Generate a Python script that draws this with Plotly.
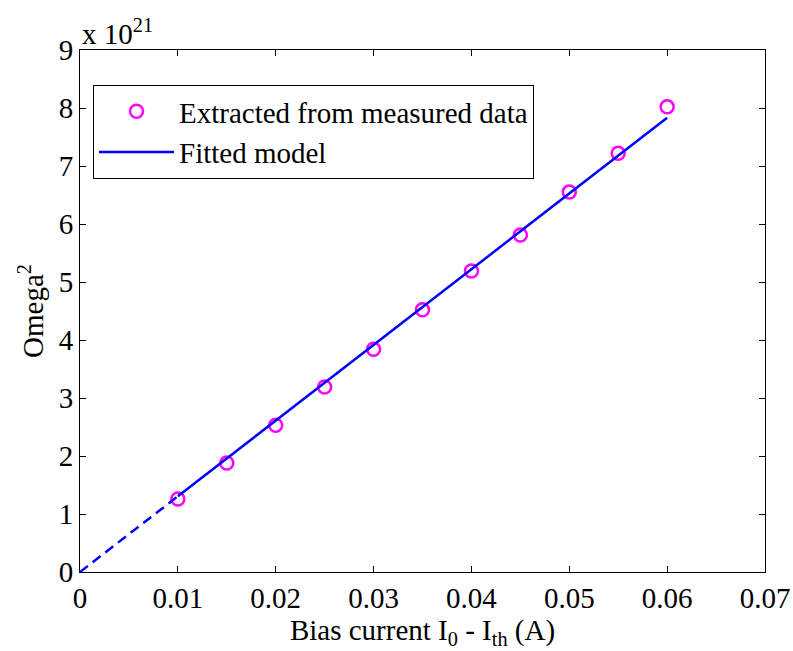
import plotly.graph_objects as go

# Data (Omega^2 in units of 1e21)
bias_current = [0.010, 0.015, 0.020, 0.025, 0.030, 0.035, 0.040, 0.045, 0.050, 0.055, 0.060]
omega2_e21 = [1.26, 1.88, 2.53, 3.19, 3.84, 4.52, 5.19, 5.81, 6.55, 7.22, 8.02]

fit_x_dashed = [0.0, 0.010]
fit_y_dashed = [0.0, 1.305]
fit_x_solid = [0.010, 0.060]
fit_y_solid = [1.305, 7.83]

x_ticks = [0, 0.01, 0.02, 0.03, 0.04, 0.05, 0.06, 0.07]
x_ticktext = ["0", "0.01", "0.02", "0.03", "0.04", "0.05", "0.06", "0.07"]
y_ticks = [0, 1, 2, 3, 4, 5, 6, 7, 8, 9]
y_ticktext = [str(v) for v in y_ticks]

FONT = "Liberation Serif, Times New Roman, serif"
FS = 29

fig = go.Figure()
fig.add_trace(go.Scatter(x=bias_current, y=omega2_e21, mode="markers",
                         name="Extracted from measured data",
                         marker=dict(symbol="circle-open", size=13, color="#FF00FF",
                                     line=dict(width=2.5, color="#FF00FF"))))
fig.add_trace(go.Scatter(x=fit_x_solid, y=fit_y_solid, mode="lines",
                         name="Fitted model", line=dict(color="#0000FF", width=2.5)))
fig.add_trace(go.Scatter(x=fit_x_dashed, y=fit_y_dashed, mode="lines", showlegend=False,
                         line=dict(color="#0000FF", width=2.5, dash="10px,6px")))

axis_common = dict(showline=True, linecolor="black", linewidth=1, mirror="ticks",
                   ticks="inside", ticklen=6, tickcolor="black", showgrid=False,
                   zeroline=False, automargin=False,
                   tickfont=dict(family=FONT, size=FS, color="black"))

fig.update_layout(
    width=793, height=651,
    margin=dict(l=80, r=28, t=50, b=79),
    plot_bgcolor="white", paper_bgcolor="white",
    font=dict(family=FONT, color="black"),
    xaxis=dict(range=[0, 0.07], tickvals=x_ticks, ticktext=x_ticktext,
               title=dict(text="Bias current I<sub>0</sub> - I<sub>th</sub> (A)",
                          font=dict(family=FONT, size=FS), standoff=0),
               **axis_common),
    yaxis=dict(range=[0, 9], tickvals=y_ticks, ticktext=y_ticktext,
               title=dict(text="Omega<sup>2</sup>", font=dict(family=FONT, size=FS), standoff=6),
               **axis_common),
    legend=dict(x=0.019, y=0.933, xanchor="left", yanchor="top",
                bgcolor="white", bordercolor="black", borderwidth=1,
                font=dict(family=FONT, size=FS, color="black"),
                itemwidth=75, tracegroupgap=0),
    showlegend=True,
)

fig.add_annotation(text="x 10<sup>21</sup>", xref="paper", yref="paper", x=0, y=1,
                   xanchor="left", yanchor="bottom", showarrow=False,
                   font=dict(family=FONT, size=FS, color="black"), yshift=-2)

fig.write_html("out.html")
